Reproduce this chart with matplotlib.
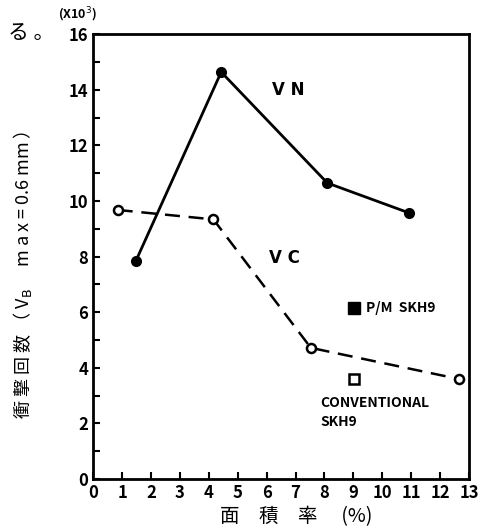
import matplotlib as mpl
mpl.use('Agg')
import matplotlib.pyplot as plt
import numpy as np

plt.rcParams['font.family'] = ['Noto Sans CJK JP', 'DejaVu Sans']

# VN (P/M SKH9, filled) and VC (conventional, open)
vnArea = [1.48, 4.43, 8.1, 10.91]
vnCount = [7.85, 14.64, 10.65, 9.58]
vcArea = [0.85, 4.16, 7.53, 12.64]
vcCount = [9.68, 9.34, 4.72, 3.6]

xTicks = list(range(0, 14))
yTicks = list(range(0, 17))
yLabels = [str(v) if v % 2 == 0 else '' for v in yTicks]

fig = plt.figure(figsize=(4.85, 5.27), dpi=100)
ax = fig.add_axes([0.192, 0.091, 0.775, 0.844])

ax.plot(vnArea, vnCount, '-', color='black', lw=2.0, marker='o',
        ms=7, mfc='black', mec='black')
ax.plot(vcArea, vcCount, color='black', lw=1.8, ls=(0, (6, 3.5)), marker='o',
        ms=6.5, mfc='white', mec='black', mew=1.8)

ax.text(6.2, 14.0, 'V N', fontsize=12, fontweight='bold', ha='left', va='center',
        family='DejaVu Sans')
ax.text(6.1, 7.95, 'V C', fontsize=12, fontweight='bold', ha='left', va='center',
        family='DejaVu Sans')

# legend drawn by hand
ax.plot([9.03], [6.15], 's', ms=8, mfc='black', mec='black')
ax.text(9.45, 6.15, 'P/M  SKH9', fontsize=10, fontweight='bold', ha='left', va='center')
ax.plot([9.03], [3.6], 's', ms=7, mfc='white', mec='black', mew=1.8)
ax.text(7.85, 2.75, 'CONVENTIONAL', fontsize=10, fontweight='bold', ha='left', va='center')
ax.text(7.85, 2.05, 'SKH9', fontsize=10, fontweight='bold', ha='left', va='center')

ax.set_xlim(0, 13)
ax.set_ylim(0, 16)
ax.set_xticks(xTicks)
ax.set_yticks(yTicks)
ax.set_yticklabels(yLabels)
ax.tick_params(direction='in', length=5, width=1.5, labelsize=12)
for lab in ax.get_xticklabels() + ax.get_yticklabels():
    lab.set_fontweight('bold')
for s in ax.spines.values():
    s.set_linewidth(2)

fig.text(0.16, 0.972, '(X10$^3$)', fontsize=9, fontweight='bold', ha='center', va='center')
fig.text(0.065, 0.937, 'る 。', fontsize=15, ha='center', va='center')
fig.text(0.047, 0.478, '衝 撃 回 数 （ V$_{\\mathrm{B}}$　 m a x = 0.6 mm ）', fontsize=13,
         rotation=90, ha='center', va='center')
fig.text(0.61, 0.02, '面　積　率　 (%)', fontsize=14, ha='center', va='center')

fig.savefig('out.png', dpi=100)
